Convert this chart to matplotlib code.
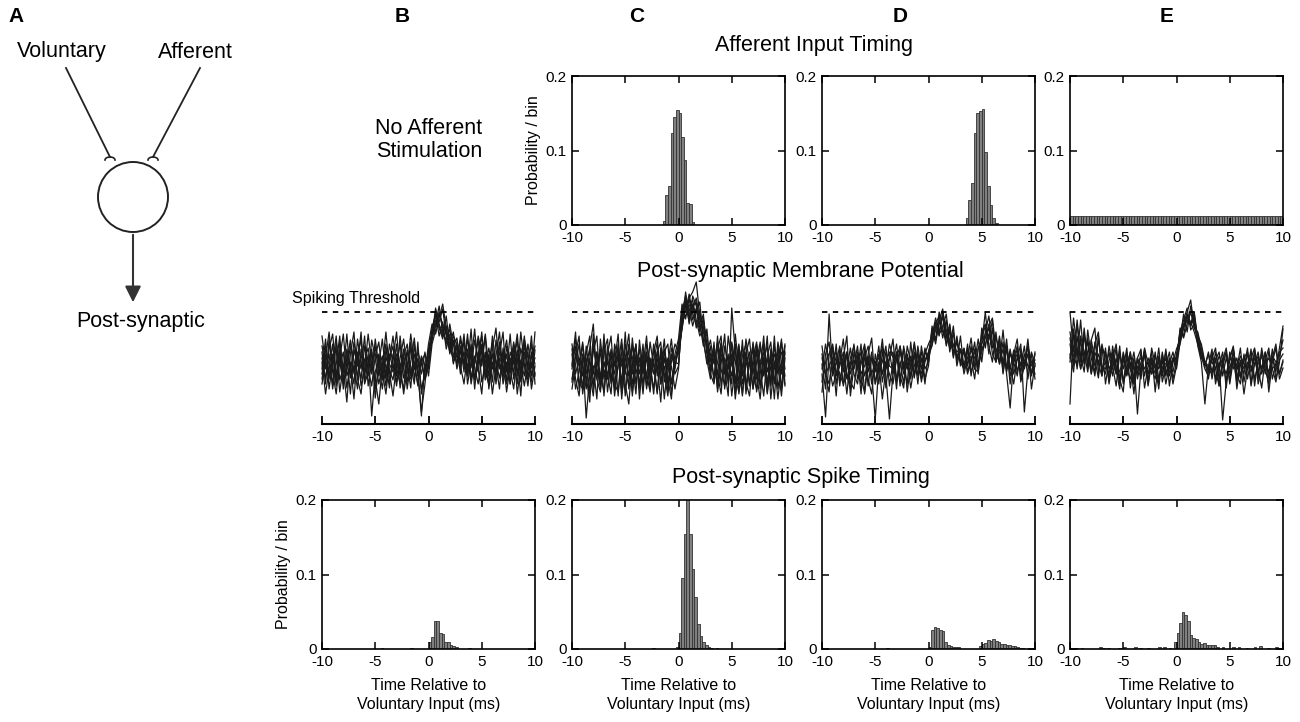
import numpy as np
import matplotlib
matplotlib.use('Agg')
import matplotlib.pyplot as plt
from matplotlib.patches import Circle

plt.rcParams['font.family'] = ['Liberation Sans', 'DejaVu Sans']
plt.rcParams['axes.unicode_minus'] = False

# ---- afferent input timing (0.25 ms bins, left edges) ----
aff_C_t = [-1.5, -1.25, -1.0, -0.75, -0.5, -0.25, 0.0, 0.25, 0.5, 0.75, 1.0, 1.25]
aff_C_p = [0.005, 0.040, 0.053, 0.124, 0.145, 0.155, 0.150, 0.118, 0.087, 0.030, 0.028, 0.004]
aff_D_t = [3.5, 3.75, 4.0, 4.25, 4.5, 4.75, 5.0, 5.25, 5.5, 5.75, 6.0, 6.25]
aff_D_p = [0.009, 0.033, 0.056, 0.124, 0.150, 0.153, 0.156, 0.098, 0.053, 0.027, 0.010, 0.003]
aff_E_t = list(np.arange(-10, 10, 0.25))
aff_E_p = [0.0125] * 80

# ---- post-synaptic spike timing ----
spk_B_t = [-4.5, -1.75, 0.0, 0.25, 0.5, 0.75, 1.0, 1.25, 1.5, 1.75, 2.0, 2.25, 2.5, 3.75]
spk_B_p = [0.002, 0.002, 0.009, 0.016, 0.038, 0.037, 0.021, 0.020, 0.010, 0.009, 0.005, 0.004, 0.003, 0.002]
spk_C_t = [-2.5, -0.25, 0.0, 0.25, 0.5, 0.75, 1.0, 1.25, 1.5, 1.75, 2.0, 2.25, 2.5, 2.75, 3.0, 3.5]
spk_C_p = [0.001, 0.003, 0.021, 0.095, 0.155, 0.205, 0.155, 0.108, 0.070, 0.033, 0.017, 0.010, 0.006, 0.003, 0.002, 0.001]
spk_D_t = [-4.0, 0.0, 0.25, 0.5, 0.75, 1.0, 1.25, 1.5, 1.75, 2.0, 2.25, 2.5, 2.75,
           4.75, 5.0, 5.25, 5.5, 5.75, 6.0, 6.25, 6.5, 6.75, 7.0, 7.25, 7.5, 7.75, 8.0, 8.25, 8.5, 8.75]
spk_D_p = [0.002, 0.003, 0.026, 0.029, 0.028, 0.025, 0.024, 0.010, 0.006, 0.004, 0.003, 0.003, 0.003,
           0.004, 0.007, 0.008, 0.012, 0.011, 0.013, 0.011, 0.009, 0.007, 0.007, 0.006, 0.005, 0.004, 0.004, 0.003, 0.002, 0.001]
spk_E_t = [-9.5, -9.0, -7.25, -7.0, -6.5, -5.5, -5.0, -4.0, -3.5, -2.75, -1.75, -1.25, -0.75,
           -0.25, 0.0, 0.25, 0.5, 0.75, 1.0, 1.25, 1.5, 1.75, 2.0, 2.25, 2.5, 2.75, 3.0, 3.25, 3.5, 3.75,
           4.25, 5.25, 5.75, 6.5, 7.25, 7.75, 8.5, 9.25, 9.5]
spk_E_p = [0.002, 0.002, 0.003, 0.002, 0.002, 0.002, 0.003, 0.003, 0.002, 0.002, 0.003, 0.003, 0.002,
           0.010, 0.021, 0.035, 0.050, 0.046, 0.037, 0.019, 0.015, 0.014, 0.010, 0.007, 0.008, 0.005, 0.006, 0.005, 0.006, 0.003,
           0.003, 0.003, 0.003, 0.002, 0.003, 0.004, 0.002, 0.003, 0.002]

# ---- membrane potential traces (arbitrary units, threshold = 112), -10..10 ms ----
threshold = 112
vm_B = [
    [72, 40, 85, 52, 30, 66, 90, 48, 60, 25, 70, 55, 88, 38, 62, 45, 20, 58, 80, 42,
     66, 92, 50, 35, 74, 58, 40, 82, 30, 55, 70, 96, 110, 88, 102, 75, 90, 60, 78, 50,
     85, 40, 62, 95, 55, 30, 72, 48, 88, 60, 35, 76, 52, 90, 45, 66, 28, 80, 58, 42, 74],
    [50, 78, 35, 62, 88, 44, 56, 22, 70, 92, 45, 30, 64, 76, 50, 85, 58, 35, 68, 52,
     28, 60, 80, 46, 55, 90, 62, 38, 66, 44, 58, 85, 100, 118, 92, 98, 70, 84, 55, 72,
     62, 48, 80, 35, 70, 88, 52, 40, 75, 96, 55, 68, 32, 58, 82, 48, 92, 60, 38, 70, 50],
    [88, 60, 45, 70, 38, 82, 55, 66, 30, 75, 58, 92, 40, 52, 72, 26, 60, 85, 48, 66,
     78, 42, 58, 70, 35, 62, 86, 50, 12, 40, 75, 90, 104, 96, 85, 108, 76, 66, 80, 58,
     40, 70, 56, 84, 62, 92, 44, 66, 30, 58, 80, 52, 70, 40, 64, 90, 48, 72, 55, 88, 40],
    [40, 66, 92, 55, 48, 75, 35, 62, 84, 50, 72, 38, 55, 90, 60, 44, 70, 52, 30, 64,
     88, 56, 40, 68, 80, 48, 55, 72, 60, 45, 62, 88, 116, 100, 90, 84, 95, 70, 62, 78,
     52, 85, 66, 45, 72, 58, 88, 35, 62, 50, 70, 92, 40, 60, 76, 30, 58, 85, 66, 48, 92],
    [62, 30, 55, 80, 42, 68, 52, 90, 46, 58, 35, 75, 62, 48, 84, 66, 40, 58, 92, 54,
     44, 70, 60, 30, 55, 82, 45, 66, 50, 72, 48, 80, 94, 112, 96, 80, 100, 78, 86, 60,
     72, 56, 95, 44, 60, 78, 50, 70, 42, 84, 60, 45, 78, 55, 35, 70, 62, 48, 80, 56, 66],
    [78, 55, 70, 35, 60, 88, 42, 75, 58, 40, 85, 60, 48, 70, 8, 52, 66, 44, 74, 60,
     52, 80, 36, 62, 72, 50, 60, 40, 68, 58, 66, 92, 108, 102, 115, 88, 80, 92, 66, 74,
     60, 90, 45, 68, 52, 80, 64, 38, 70, 62, 46, 66, 84, 52, 70, 40, 76, 58, 44, 72, 60],
    [55, 85, 48, 66, 75, 32, 58, 70, 50, 82, 62, 45, 78, 55, 38, 68, 82, 50, 60, 36,
     70, 48, 88, 55, 42, 76, 58, 64, 35, 50, 80, 100, 90, 106, 120, 96, 74, 88, 80, 62,
     90, 48, 70, 60, 85, 42, 58, 76, 55, 68, 92, 50, 62, 40, 80, 66, 52, 88, 46, 60, 78],
    [66, 45, 75, 90, 50, 62, 40, 55, 78, 64, 48, 70, 52, 62, 75, 35, 55, 68, 45, 80,
     60, 38, 66, 85, 52, 45, 70, 55, 8, 62, 70, 84, 112, 98, 88, 92, 84, 62, 70, 84,
     58, 75, 40, 62, 88, 70, 46, 60, 82, 40, 66, 58, 45, 72, 60, 85, 42, 66, 72, 35, 58],
    [45, 70, 60, 40, 82, 58, 72, 36, 62, 55, 68, 85, 42, 60, 55, 78, 48, 62, 38, 70,
     55, 66, 48, 75, 60, 36, 80, 48, 62, 70, 55, 90, 98, 110, 100, 90, 72, 82, 58, 88,
     66, 52, 78, 56, 40, 66, 90, 55, 70, 46, 82, 40, 58, 66, 52, 74, 60, 38, 62, 80, 48],
]
vm_C = [
    [60, 92, 35, 70, 48, 22, 80, 55, 38, 90, 45, 72, 28, 60, 85, 40, 20, 66, 78, 35,
     58, 88, 42, 65, 30, 76, 50, 28, 70, 55, 78, 112, 128, 100, 118, 122, 96, 104, 72, 50,
     40, 75, 88, 35, 62, 48, 80, 30, 58, 72, 38, 82, 50, 25, 66, 78, 40, 88, 35, 60, 80],
    [42, 70, 88, 30, 58, 76, 100, 45, 32, 72, 85, 40, 62, 90, 30, 55, 75, 28, 66, 50,
     80, 35, 58, 72, 88, 40, 66, 45, 25, 70, 85, 120, 105, 126, 132, 142, 108, 92, 80, 62,
     70, 35, 78, 55, 28, 116, 72, 40, 84, 30, 62, 75, 32, 55, 88, 40, 66, 25, 78, 50, 70],
    [75, 45, 28, 66, 6, 50, 72, 88, 35, 62, 50, 30, 80, 66, 42, 92, 35, 55, 80, 25,
     66, 50, 32, 78, 60, 22, 72, 80, 40, 62, 60, 100, 132, 108, 120, 96, 114, 82, 64, 45,
     82, 32, 60, 90, 40, 70, 25, 58, 78, 42, 28, 66, 82, 40, 52, 88, 25, 60, 72, 35, 78],
    [55, 85, 62, 35, 78, 50, 28, 72, 45, 82, 32, 62, 50, 80, 25, 66, 90, 40, 58, 75,
     38, 80, 62, 30, 72, 55, 85, 38, 62, 80, 72, 95, 118, 125, 104, 116, 92, 106, 80, 70,
     45, 88, 38, 66, 55, 80, 30, 72, 48, 85, 62, 35, 72, 55, 28, 68, 82, 42, 60, 85, 40],
    [35, 60, 80, 48, 66, 30, 90, 45, 75, 28, 70, 88, 40, 32, 66, 50, 80, 62, 30, 84,
     50, 66, 35, 80, 48, 70, 25, 60, 85, 50, 58, 108, 122, 102, 128, 118, 100, 78, 95, 55,
     75, 50, 30, 78, 62, 40, 90, 55, 30, 70, 85, 48, 35, 78, 60, 32, 75, 62, 25, 58, 72],
    [70, 35, 52, 80, 40, 62, 58, 25, 85, 50, 62, 42, 75, 28, 80, 55, 38, 86, 50, 66,
     30, 72, 50, 62, 82, 40, 58, 32, 76, 64, 80, 98, 126, 116, 98, 112, 122, 85, 60, 78,
     42, 62, 82, 50, 70, 28, 60, 80, 40, 58, 72, 35, 62, 82, 48, 66, 38, 78, 58, 28, 66],
    [58, 78, 42, 35, 70, 88, 40, 62, 50, 32, 78, 62, 35, 58, 72, 28, 66, 50, 80, 38,
     72, 45, 82, 58, 32, 62, 75, 42, 58, 35, 55, 114, 112, 130, 110, 100, 96, 110, 70, 84,
     60, 82, 55, 38, 88, 62, 48, 32, 68, 80, 40, 58, 75, 35, 80, 52, 68, 40, 82, 62, 38],
    [80, 50, 66, 58, 35, 75, 50, 72, 38, 62, 45, 75, 58, 66, 35, 80, 62, 32, 70, 58,
     62, 38, 66, 50, 72, 82, 42, 66, 30, 58, 75, 104, 108, 118, 124, 104, 88, 96, 88, 62,
     78, 40, 70, 62, 42, 82, 60, 72, 28, 66, 58, 80, 45, 62, 72, 30, 58, 70, 50, 82, 55],
    [45, 68, 58, 82, 50, 66, 35, 60, 75, 45, 66, 50, 38, 72, 58, 66, 48, 80, 40, 66,
     52, 66, 58, 35, 66, 50, 72, 58, 40, 66, 70, 96, 120, 106, 115, 126, 104, 98, 74, 52,
     66, 50, 80, 62, 45, 62, 40, 78, 58, 38, 66, 50, 80, 58, 66, 38, 72, 55, 66, 72, 48],
]
vm_D = [
    [60, 35, 110, 50, 80, 38, 66, 88, 28, 58, 78, 45, 32, 70, 86, 40, 62, 25, 55, 80,
     66, 35, 78, 58, 40, 82, 48, 70, 55, 76, 62, 95, 80, 104, 115, 88, 76, 98, 62, 88,
     55, 80, 48, 75, 58, 92, 100, 70, 96, 62, 88, 50, 78, 40, 70, 85, 45, 62, 78, 35, 60],
    [50, 7, 70, 78, 40, 62, 85, 48, 35, 72, 55, 80, 30, 62, 50, 5, 58, 78, 36, 66,
     85, 42, 58, 75, 32, 60, 80, 48, 66, 40, 72, 84, 100, 108, 86, 104, 72, 92, 58, 75,
     50, 66, 86, 55, 75, 80, 112, 78, 62, 92, 60, 82, 50, 16, 66, 78, 42, 58, 85, 48, 72],
    [78, 50, 40, 66, 28, 76, 52, 70, 42, 35, 68, 30, 78, 52, 72, 40, 58, 85, 48, 5,
     52, 72, 38, 78, 58, 45, 70, 40, 78, 55, 62, 98, 84, 112, 96, 80, 100, 70, 84, 58,
     75, 50, 62, 82, 50, 96, 76, 100, 70, 62, 86, 52, 75, 58, 40, 66, 80, 12, 55, 70, 45],
    [32, 70, 82, 48, 62, 78, 38, 55, 76, 50, 40, 66, 80, 45, 30, 70, 52, 62, 78, 38,
     62, 80, 48, 36, 70, 55, 82, 58, 45, 70, 80, 88, 106, 92, 110, 78, 94, 66, 88, 62,
     55, 76, 52, 62, 85, 62, 92, 108, 82, 70, 62, 94, 55, 75, 50, 66, 58, 78, 45, 72, 60],
    [70, 48, 32, 76, 62, 50, 40, 72, 55, 80, 45, 60, 72, 38, 66, 52, 78, 42, 62, 50,
     40, 66, 78, 50, 62, 36, 58, 72, 42, 62, 70, 78, 98, 88, 112, 94, 82, 80, 72, 75,
     58, 72, 66, 45, 76, 86, 98, 84, 104, 62, 80, 60, 85, 48, 62, 75, 52, 70, 58, 50, 70],
    [55, 80, 60, 38, 50, 72, 62, 30, 66, 78, 55, 40, 66, 78, 50, 62, 40, 72, 55, 66,
     72, 45, 62, 40, 78, 62, 50, 60, 72, 45, 58, 95, 84, 100, 106, 88, 98, 68, 82, 72,
     75, 58, 78, 55, 52, 80, 90, 95, 78, 76, 60, 75, 52, 70, 62, 48, 75, 60, 70, 50, 58],
    [42, 62, 70, 80, 48, 58, 72, 45, 62, 55, 72, 50, 58, 68, 40, 62, 66, 50, 72, 58,
     55, 72, 45, 62, 55, 68, 46, 78, 55, 64, 72, 88, 102, 90, 96, 110, 80, 74, 70, 62,
     76, 52, 66, 72, 58, 72, 86, 98, 106, 74, 72, 58, 78, 55, 74, 52, 70, 58, 78, 62, 50],
    [66, 50, 58, 66, 72, 42, 62, 72, 50, 64, 58, 72, 48, 62, 66, 55, 70, 50, 62, 72,
     50, 64, 72, 55, 66, 48, 72, 60, 50, 72, 66, 80, 94, 104, 92, 86, 94, 78, 68, 72,
     70, 60, 74, 66, 58, 76, 80, 90, 76, 86, 74, 64, 58, 72, 62, 70, 60, 55, 70, 58, 64],
]
vm_E = [
    [112, 72, 100, 62, 92, 55, 84, 96, 50, 76, 70, 42, 78, 55, 35, 70, 48, 62, 30, 66,
     52, 75, 40, 66, 58, 35, 72, 48, 62, 52, 70, 90, 100, 112, 124, 96, 92, 76, 58, 72,
     45, 66, 38, 58, 72, 42, 75, 35, 62, 50, 72, 40, 75, 55, 36, 66, 50, 75, 45, 62, 95],
    [20, 95, 66, 104, 60, 86, 52, 80, 92, 48, 76, 40, 66, 80, 45, 32, 72, 55, 40, 66,
     75, 36, 58, 72, 32, 66, 50, 75, 38, 62, 75, 84, 110, 92, 118, 102, 78, 62, 20, 58,
     75, 40, 58, 72, 36, 66, 78, 45, 62, 30, 55, 75, 38, 66, 55, 72, 32, 62, 76, 45, 56],
    [80, 58, 104, 68, 52, 94, 66, 48, 88, 58, 50, 78, 58, 38, 70, 55, 76, 36, 62, 10,
     56, 72, 42, 76, 60, 40, 70, 50, 66, 40, 58, 96, 88, 110, 100, 112, 84, 68, 55, 48,
     70, 45, 62, 4, 42, 66, 76, 50, 40, 70, 45, 66, 76, 40, 56, 72, 45, 66, 80, 50, 62],
    [62, 106, 76, 55, 88, 70, 50, 82, 60, 78, 40, 64, 72, 50, 78, 40, 56, 72, 45, 66,
     52, 72, 38, 62, 50, 76, 42, 58, 72, 45, 62, 92, 104, 116, 94, 100, 88, 80, 62, 52,
     66, 76, 45, 60, 72, 40, 64, 55, 76, 42, 62, 52, 72, 45, 76, 55, 40, 66, 52, 76, 98],
    [92, 68, 58, 88, 72, 52, 84, 64, 46, 80, 62, 45, 56, 76, 38, 66, 50, 72, 40, 58,
     45, 76, 60, 50, 72, 45, 64, 40, 60, 72, 55, 82, 98, 106, 100, 110, 84, 72, 62, 45,
     70, 55, 38, 64, 76, 50, 66, 42, 64, 55, 76, 38, 60, 72, 50, 64, 76, 45, 60, 72, 76],
    [70, 52, 88, 62, 96, 60, 75, 50, 86, 58, 55, 72, 48, 66, 42, 72, 55, 45, 66, 50,
     72, 48, 66, 55, 45, 68, 55, 66, 48, 62, 66, 86, 98, 108, 102, 92, 80, 66, 62, 55,
     50, 72, 55, 66, 42, 72, 55, 66, 48, 68, 55, 72, 45, 60, 68, 50, 72, 55, 42, 64, 70],
    [86, 62, 76, 55, 70, 82, 50, 72, 60, 48, 72, 55, 64, 50, 72, 42, 66, 55, 72, 45,
     62, 68, 50, 66, 55, 62, 48, 72, 55, 66, 60, 94, 86, 100, 112, 96, 88, 72, 58, 70,
     52, 64, 72, 48, 66, 55, 72, 58, 46, 66, 72, 55, 66, 50, 72, 58, 52, 68, 62, 50, 64],
    [66, 90, 55, 84, 60, 72, 78, 58, 70, 55, 62, 50, 70, 58, 52, 66, 50, 68, 55, 62,
     66, 55, 62, 50, 68, 55, 64, 60, 52, 66, 66, 80, 96, 104, 98, 106, 82, 66, 62, 58,
     62, 55, 68, 60, 50, 66, 60, 55, 68, 60, 55, 66, 60, 68, 55, 60, 66, 55, 60, 68, 84],
]

W, H = 1300, 722
fig = plt.figure(figsize=(13, 7.22), dpi=100)


def rect(x0, y0, x1, y1):
    return [x0 / W, 1 - y1 / H, (x1 - x0) / W, (y1 - y0) / H]


cols = {'B': 322, 'C': 572, 'D': 822, 'E': 1070}
pw = 213


def hist_axes(x0, y0, y1, t, p):
    ax = fig.add_axes(rect(x0, y0, x0 + pw, y1))
    ax.bar(t, p, width=0.25, align='edge', color='#808080',
           edgecolor='#333333', linewidth=0.6)
    ax.set_xlim(-10, 10)
    ax.set_ylim(0, 0.2)
    ax.set_xticks([-10, -5, 0, 5, 10])
    ax.set_yticks([0, 0.1, 0.2])
    ax.set_yticklabels(['0', '0.1', '0.2'])
    ax.tick_params(direction='in', top=True, right=True, length=5, width=1.1,
                   labelsize=11, pad=4)
    for s in ax.spines.values():
        s.set_linewidth(1.2)
    return ax


def vm_axes(x0, traces):
    ax = fig.add_axes(rect(x0, 282, x0 + pw, 424))
    for tr in traces:
        ax.plot(np.linspace(-10, 10, len(tr)), tr, color='#1a1a1a', lw=0.9,
                clip_on=False)
    ax.axhline(threshold, color='k', ls=(0, (3, 3)), lw=1.3)
    ax.set_xlim(-10, 10)
    ax.set_ylim(0, 142)
    for s in ['left', 'top', 'right']:
        ax.spines[s].set_visible(False)
    ax.spines['bottom'].set_linewidth(1.5)
    ax.set_yticks([])
    ax.set_xticks([-10, -5, 0, 5, 10])
    ax.tick_params(axis='x', direction='in', length=6, width=1.3, labelsize=11, pad=4)
    ax.patch.set_alpha(0)
    return ax


# text / diagram overlay in pixel units
ov = fig.add_axes([0, 0, 1, 1])
ov.set_xlim(0, W)
ov.set_ylim(H, 0)
ov.axis('off')

big = 15.5
for letter, x in [('A', 16), ('B', 402), ('C', 637), ('D', 900), ('E', 1167)]:
    ov.text(x, 17, letter, fontsize=15, fontweight='bold', ha='center', va='center')
ov.text(814, 45, 'Afferent Input Timing', fontsize=big, ha='center', va='center')
ov.text(429, 140, 'No Afferent\nStimulation', fontsize=big, ha='center', va='center',
        linespacing=1.1)
ov.text(800, 272, 'Post-synaptic Membrane Potential', fontsize=big, ha='center', va='center')
ov.text(292, 298, 'Spiking Threshold', fontsize=11.5, ha='left', va='center')
ov.text(801, 478, 'Post-synaptic Spike Timing', fontsize=big, ha='center', va='center')

# panel A schematic
ov.text(62, 52, 'Voluntary', fontsize=big, ha='center', va='center')
ov.text(195, 52, 'Afferent', fontsize=big, ha='center', va='center')
ov.text(141, 322, 'Post-synaptic', fontsize=big, ha='center', va='center')
ov.plot([66, 110], [68, 157], color='#222222', lw=1.3)
ov.plot([200, 153], [68, 157], color='#222222', lw=1.3)
th = np.linspace(0, np.pi, 20)
for cx in [110, 153]:
    ov.plot(cx + 5 * np.cos(th), 160 - 3 * np.sin(th), color='#222222', lw=1.2)
ov.add_patch(Circle((133, 197), 35, fill=False, ec='#222222', lw=1.4))
ov.annotate('', xy=(133, 305), xytext=(133, 232),
            arrowprops=dict(arrowstyle='-|>', color='#333333', lw=1.5, mutation_scale=24))

# top row: afferent input timing
ax = hist_axes(cols['C'], 76, 225, aff_C_t, aff_C_p)
ax.set_ylabel('Probability / bin', fontsize=11.5, labelpad=3)
hist_axes(cols['D'], 76, 225, aff_D_t, aff_D_p)
hist_axes(cols['E'], 76, 225, aff_E_t, aff_E_p)

# middle row: membrane potential
vm_axes(cols['B'], vm_B)
vm_axes(cols['C'], vm_C)
vm_axes(cols['D'], vm_D)
vm_axes(cols['E'], vm_E)

# bottom row: spike timing
xlab = 'Time Relative to\nVoluntary Input (ms)'
for key, t, p in [('B', spk_B_t, spk_B_p), ('C', spk_C_t, spk_C_p),
                  ('D', spk_D_t, spk_D_p), ('E', spk_E_t, spk_E_p)]:
    ax = hist_axes(cols[key], 500, 649, t, p)
    ax.set_xlabel(xlab, fontsize=11.5, labelpad=7, linespacing=1.3)
    if key == 'B':
        ax.set_ylabel('Probability / bin', fontsize=11.5, labelpad=3)

fig.savefig('out.png', dpi=100)
